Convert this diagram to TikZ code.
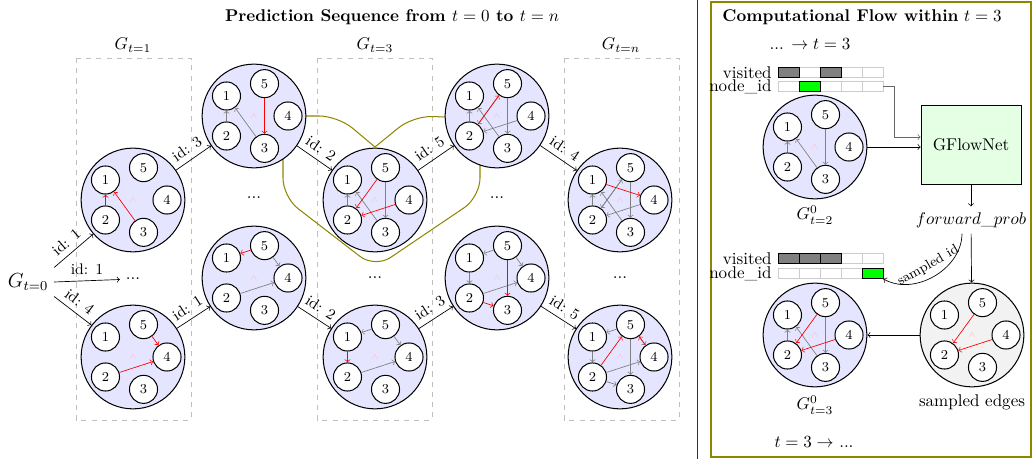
\documentclass[tikz,border=0pt]{standalone}
\usepackage{amsmath}
\usetikzlibrary{positioning}
\tikzset{
  bigc/.style={circle, draw, semithick, minimum size=61pt, inner sep=0pt},
  smallc/.style={circle, draw, semithick, fill=white, minimum size=16.5pt, inner sep=0pt, font=\footnotesize},
  tipmark/.style={font=\tiny, text=red!25, inner sep=0pt},
  gedge/.style={->, gray},
  redge/.style={->, red},
  idlink/.style={->},
  idlabel/.style={sloped, above, font=\small},
  colbox/.style={draw=gray!50, dashed},
  cellbox/.style={draw=gray!40, minimum width=12.35pt, minimum height=5.9pt, inner sep=0pt},
}
\begin{document}
\begin{tikzpicture}[x=0.588pt, y=-0.588pt]
        \useasboundingbox (0,0) rectangle (1034,459);
        % frames
        \draw[black!80] (697,0) -- (697,459);
        \draw[olive, semithick] (711,2) rectangle (1031,457);
        \node at (392,17) {\textbf{Prediction Sequence from $t=0$ to $t=n$}};
        \node at (862,17) {\textbf{Computational Flow within} $t=3$};
        % columns
        \draw[colbox] (76,58) rectangle (191,420);
        \draw[colbox] (317,58) rectangle (432,420);
        \draw[colbox] (564,58) rectangle (679,420);
        \node at (133,45) {$G_{t=1}$};
        \node at (375,45) {$G_{t=3}$};
        \node at (621,45) {$G_{t=n}$};
        \draw[olive, semithick, rounded corners=11pt] (375,147) -- (338,116) -- (283,116) -- (283,197) -- (375,268) -- (480,197) -- (480,118) -- (413,116) -- (375,147);
        % graphs
        \foreach \g/\px/\py/\fc in {p1/133/200/blue!10, q1/133/357/blue!10, p2/254/116/blue!10, q2/254/278/blue!10, p3/375/200/blue!10, q3/375/357/blue!10, p4/497/116/blue!10, q4/497/278/blue!10, p5/620/200/blue!10, q5/620/357/blue!10, r2/815/147/blue!10, r3/815/335/blue!10, sm/972/335/gray!10} {
          \node[bigc, fill=\fc] (\g) at (\px,\py) {};
          \node[tipmark] at (\g) {$\wedge$};
          \foreach \k/\a in {4/0, 5/72, 1/144, 2/216, 3/288}
            \path (\g) ++(\a:20pt) node[smallc] (\g-\k) {\k};
        }
        \foreach \g/\a/\b in {p2/2/1, p2/3/1, q2/5/4, q2/2/4, p3/2/1, p3/3/1, p3/5/3, q3/5/1, q3/5/4, q3/2/4, p4/2/1, p4/3/1, p4/5/3, p4/5/2, p4/4/2, q4/5/1, q4/1/2, q4/5/4, q4/2/4, p5/2/1, p5/3/1, p5/5/3, p5/5/2, p5/4/2, p5/2/5, q5/5/1, q5/1/2, q5/5/4, q5/2/4, q5/5/3, q5/2/3, r2/2/1, r2/3/1, r2/5/3, r3/2/1, r3/3/1, r3/5/3}
          \draw[gedge] (\g-\a) -- (\g-\b);
        \foreach \g/\a/\b in {p1/2/1, p1/3/1, q1/5/4, q1/2/4, p2/5/3, q2/5/1, p3/5/2, p3/4/2, q3/1/2, p4/2/5, q4/5/3, q4/2/3, p5/1/4, q5/2/5, q5/4/5, r3/5/2, r3/4/2, sm/5/2, sm/4/2}
          \draw[redge] (\g-\a) -- (\g-\b);
        % sequence
        \node[font=\large] (G0) at (28,282) {$G_{t=0}$};
        \node (d0) at (133,279) {...};
        \node (d2) at (254,198) {...};
        \node (d3) at (375,278) {...};
        \node (d4) at (497,198) {...};
        \node (d5) at (620,278) {...};
        \draw[idlink] (G0.north east) -- node[idlabel] {id: 1} (p1);
        \draw[idlink] (G0.east) -- node[above, font=\small] {id: 1} (d0);
        \draw[idlink] (G0.south east) -- node[idlabel] {id: 4} (q1);
        \draw[idlink] (p1) -- node[idlabel] {id: 3} (p2);
        \draw[idlink] (q1) -- node[idlabel] {id: 1} (q2);
        \draw[idlink] (p2) -- node[idlabel] {id: 2} (p3);
        \draw[idlink] (q2) -- node[idlabel] {id: 2} (q3);
        \draw[idlink] (p3) -- node[idlabel] {id: 5} (p4);
        \draw[idlink] (q3) -- node[idlabel] {id: 3} (q4);
        \draw[idlink] (p4) -- node[idlabel] {id: 4} (p5);
        \draw[idlink] (q4) -- node[idlabel] {id: 5} (q5);
        % flow within t=3
        \node at (810,44) {... $\rightarrow t=3$};
        \node at (814,442) {$t=3\rightarrow$ ...};
        \foreach \i in {1,...,5} {
          \node[cellbox] (va\i) at (767.5+21*\i,72.5) {};
          \node[cellbox] (na\i) at (767.5+21*\i,86.5) {};
          \node[cellbox] (vb\i) at (767.5+21*\i,258.5) {};
          \node[cellbox] (nb\i) at (767.5+21*\i,273.5) {};
        }
        \foreach \c in {va1, va3, vb1, vb2, vb3}
          \node[cellbox, draw=black, fill=gray] at (\c) {};
        \foreach \c in {na2, nb5}
          \node[cellbox, draw=black, fill=green] at (\c) {};
        \node[left] at (va1.west) {visited};
        \node[left] at (na1.west) {node\_id};
        \node[left] at (vb1.west) {visited};
        \node[left] at (nb1.west) {node\_id};
        \node[draw, fill=green!10, minimum width=58.8pt, minimum height=46.5pt] (gfn) at (971,144.5) {GFlowNet};
        \node (fp) at (971,220) {$forward\_prob$};
        \node at (815,215) {$G^0_{t=2}$};
        \node at (815,405) {$G^0_{t=3}$};
        \node at (972,402) {sampled edges};
        \draw[->] (r2) -- (r2 -| gfn.west);
        \draw[->, black!60] (na5.east) -- ++(11,0) |- ([yshift=4.4pt]gfn.west);
        \draw[->] (gfn) -- (fp);
        \draw[->] (fp) -- (sm);
        \draw[<-] (nb5.south east) to[out=-30, in=-90] node[sloped, above, font=\footnotesize] {sampled id} ([xshift=-5.3pt]fp.south);
        \draw[->] (sm) -- (r3);
\end{tikzpicture}
\end{document}
